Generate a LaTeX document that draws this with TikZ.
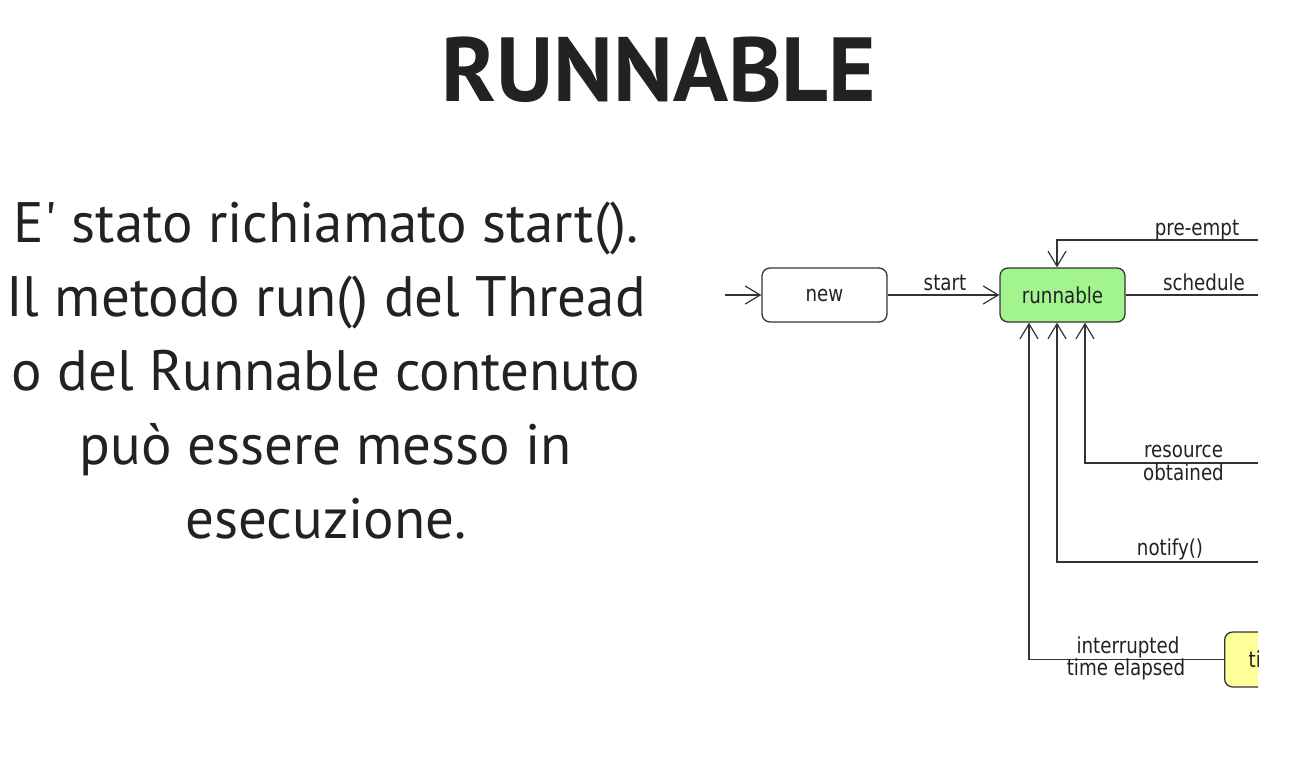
\documentclass[tikz,border=0pt]{standalone}
\usepackage{fontspec}
% a family of its own, so a typed ' stays a straight quote
\newfontfamily\slidefont{PT Sans}
\newfontfamily\diafont[FakeStretch=0.83]{DejaVu Sans}
\usetikzlibrary{arrows.meta}
\definecolor{ink}{HTML}{222222}
\definecolor{edge}{HTML}{333333}
\definecolor{runfill}{HTML}{A2F58E}
\definecolor{timedfill}{HTML}{FFFF99}

\begin{document}
\begin{tikzpicture}[x=1pt,y=-1pt,
  state/.style={draw=edge, line width=1.3pt, rounded corners=8pt,
    minimum width=125pt, minimum height=54pt, inner sep=0pt,
    font=\diafont\fontsize{22}{24}\selectfont, text=ink},
  wire/.style={draw=edge, line width=1.2pt},
  trans/.style={wire, -{Straight Barb[length=15pt,width=18pt,line width=1.2pt]}},
  lbl/.style={font=\diafont\fontsize{22}{22}\selectfont, text=ink,
    inner sep=0pt, anchor=base},
  bodyline/.style={text=ink, font=\slidefont\fontsize{57}{60}\selectfont,
    inner sep=0pt, anchor=base},
]
\useasboundingbox (0,0) rectangle (1292,772);

% heading
\node[text=ink, font=\slidefont\bfseries\fontsize{91}{91}\selectfont, inner sep=0pt,
  anchor=base] (title) at (659,101) {RUNNABLE};

% description, one node per line
\node[bodyline] (body1) at (326,242) {E' stato richiamato start().};
\node[bodyline] (body2) at (326,316) {Il metodo run() del Thread};
\node[bodyline] (body3) at (326,390) {o del Runnable contenuto};
\node[bodyline] (body4) at (326,464) {può essere messo in};
\node[bodyline] (body5) at (326,538) {esecuzione.};

% state diagram, cut off at its right edge
\begin{scope}
  \clip (0,0) rectangle (1258,772);
  \node[state, fill=white] (new) at (824.5,295) {new};
  \node[state, fill=runfill] (run) at (1062.5,295) {runnable};
  \node[state, fill=timedfill, anchor=west, minimum height=55pt,
    text width=101pt, align=left, inner xsep=24pt] (timed) at (1224,659.5) {ti};

  \coordinate (entry) at (725,295);
  \coordinate (preempt) at (1258,240);
  \coordinate (sched) at (1258,295);
  \coordinate (resobt) at (1258,463);
  \coordinate (notif) at (1258,562);

  \draw[trans] (entry) -- (new);
  \draw[trans] (new) -- (run);
  \draw[trans] (preempt) -| ([xshift=-5.5pt]run.north);
  \draw[wire] (run) -- (sched);
  \draw[trans] (resobt) -| ([xshift=22.5pt]run.south);
  \draw[trans] (notif) -| ([xshift=-5.5pt]run.south);
  \draw[trans] (timed.west) -| ([xshift=-33.5pt]run.south);

  \node[lbl] (lstart) at (945,290) {start};
  \node[lbl] (lpre) at (1197,235) {pre-empt};
  \node[lbl] (lsched) at (1204,290) {schedule};
  \node[lbl] (lres) at (1183.5,457) {resource};
  \node[lbl] (lobt) at (1183.5,480) {obtained};
  \node[lbl] (lnot) at (1170,555) {notify()};
  \node[lbl] (lint) at (1128,653) {interrupted};
  \node[lbl] (lela) at (1126,675) {time elapsed};
\end{scope}
\end{tikzpicture}
\end{document}
